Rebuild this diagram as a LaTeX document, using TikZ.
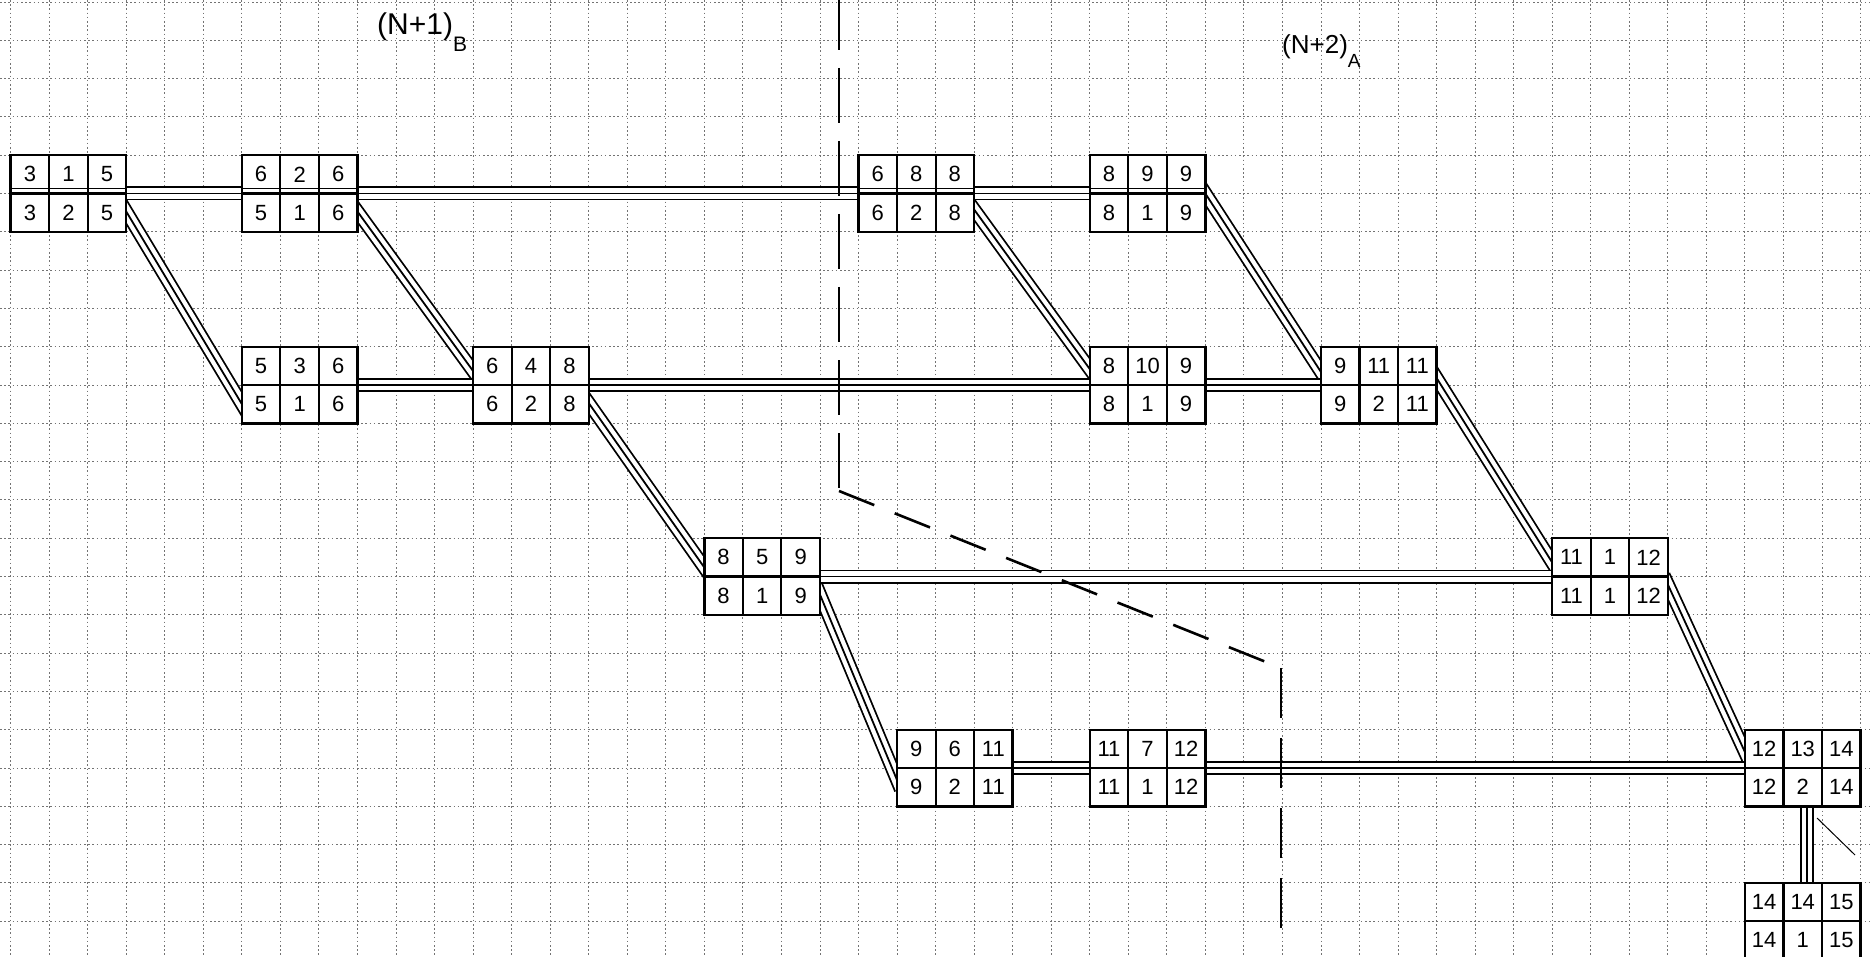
\documentclass[tikz,border=0pt]{standalone}
\usepackage{fontspec}
\setmainfont{Liberation Sans}
\usetikzlibrary{calc}
\pgfdeclarelayer{bg}
\pgfdeclarelayer{conn}
\pgfsetlayers{bg,conn,main}
\newcommand{\actbox}[9]{%
  \node[pbx, anchor=north west] (#1) at ({10.6+38.54*#2},{155.2+38.3*#3}) {};
  \draw[cellline] ($(#1.north west)+(38.54,0)$) -- ($(#1.south west)+(38.54,0)$);
  \draw[cellline] ($(#1.north west)+(77.08,0)$) -- ($(#1.south west)+(77.08,0)$);
  \draw[cellline] (#1.west) -- (#1.east);
  \node[num] (#1-a) at ($(#1.north west)+(19.27,19.15)$) {#4};
  \node[num] (#1-b) at ($(#1.north west)+(57.81,19.15)$) {#5};
  \node[num] (#1-c) at ($(#1.north west)+(96.35,19.15)$) {#6};
  \node[num] (#1-d) at ($(#1.north west)+(19.27,57.45)$) {#7};
  \node[num] (#1-e) at ($(#1.north west)+(57.81,57.45)$) {#8};
  \node[num] (#1-f) at ($(#1.north west)+(96.35,57.45)$) {#9};
}
\newcommand{\dmid}[1]{\draw[cellline, line width=1.6pt] ($(#1.west)+(0,-5)$) -- ($(#1.east)+(0,-5)$);}
\begin{document}
\begin{tikzpicture}[x=1pt,y=-1pt,
  pbx/.style={draw, line width=2.4pt, fill=white, minimum width=115.62pt, minimum height=76.6pt, inner sep=0pt, outer sep=0pt},
  cellline/.style={line width=2.1pt},
  num/.style={font=\fontsize{22}{22}\selectfont, inner sep=0pt},
  tri/.style={draw=black, line width=14pt, shorten <=-10pt, shorten >=-10pt,
    postaction={draw=white, line width=10.4pt},
    postaction={draw=black, line width=1.8pt}},
  gridline/.style={black!55, line width=0.9pt, dash pattern=on 1.6pt off 2.6pt},
  bound/.style={line width=2.6pt},
  lbl/.style={inner sep=0pt}]
\path[use as bounding box] (0,0) rectangle (1870,957);
\clip (0,0) rectangle (1870,957);
\begin{pgfonlayer}{bg}
  \fill[white] (0,0) rectangle (1870,957);
  \foreach \k in {0,...,48} { \draw[gridline] ({10.6+38.54*\k},0) -- ({10.6+38.54*\k},957); }
  \foreach \k in {-4,...,20} { \draw[gridline] (0,{155.2+38.3*\k}) -- (1870,{155.2+38.3*\k}); }
\end{pgfonlayer}
% boxes
\actbox{n1}{0}{0}{3}{1}{5}{3}{2}{5}
\actbox{n2}{6}{0}{6}{2}{6}{5}{1}{6}
\actbox{n3}{6}{5}{5}{3}{6}{5}{1}{6}
\actbox{n4}{12}{5}{6}{4}{8}{6}{2}{8}
\actbox{n5}{22}{0}{6}{8}{8}{6}{2}{8}
\actbox{n6}{28}{0}{8}{9}{9}{8}{1}{9}
\actbox{n7}{28}{5}{8}{10}{9}{8}{1}{9}
\actbox{n8}{34}{5}{9}{11}{11}{9}{2}{11}
\actbox{n9}{18}{10}{8}{5}{9}{8}{1}{9}
\actbox{n10}{40}{10}{11}{1}{12}{11}{1}{12}
\actbox{n11}{23}{15}{9}{6}{11}{9}{2}{11}
\actbox{n12}{28}{15}{11}{7}{12}{11}{1}{12}
\actbox{n13}{45}{15}{12}{13}{14}{12}{2}{14}
\actbox{n14}{45}{19}{14}{14}{15}{14}{1}{15}
\dmid{n1}\dmid{n2}\dmid{n5}\dmid{n6}
% connectors
\begin{pgfonlayer}{conn}
  % diagonals
  \draw[tri] ($(n1.east)+(0,18)$) -- ($(n3.west)+(0,19)$);
  \draw[tri] ($(n2.east)+(0,18)$) -- ($(n4.west)+(0,-14)$);
  \draw[tri] ($(n5.east)+(0,16)$) -- ($(n7.west)+(0,-16)$);
  \draw[tri] ($(n6.east)+(0,0)$) -- ($(n8.west)+(0,-13)$);
  \draw[tri] ($(n4.east)+(0,18)$) -- ($(n9.west)+(0,-9)$);
  \draw[tri] ($(n8.east)+(0,-7)$) -- ($(n10.west)+(0,-14)$);
  \draw[tri] ($(n9.east)+(0,18)$) -- ($(n11.west)+(0,12)$);
  \draw[tri] ($(n10.east)+(0,8)$) -- ($(n13.west)+(0,-16)$);
  % horizontals
  \draw[tri] (n1) -- (n2);
  \draw[tri] (n2) -- (n5);
  \draw[tri] (n5) -- (n6);
  \draw[tri] (n3) -- (n4);
  \draw[tri] (n4) -- (n7);
  \draw[tri] (n7) -- (n8);
  \draw[tri] (n9) -- (n10);
  \draw[tri] (n11) -- (n12);
  \draw[tri] (n12) -- (n13);
  % vertical
  \draw[tri] ($(n13.center)+(4,0)$) -- ($(n14.center)+(4,0)$);
\end{pgfonlayer}
% boundary (dashed)
\coordinate (d0) at (839,-5);
\coordinate (d1) at (839,491);
\coordinate (d2) at (1281,668);
\coordinate (d3) at (1281,940);
\draw[bound, dash pattern=on 55pt off 18pt] (d0) -- (d1);
\draw[bound, dash pattern=on 38pt off 22pt] (d1) -- (d2);
\draw[bound, dash pattern=on 50pt off 20pt] (d2) -- (d3);
% small stroke near last boxes
\coordinate (t1) at (1817,818);
\coordinate (t2) at (1855,855);
\draw[line width=1pt] (t1) -- (t2);
% labels
\node[lbl, anchor=base west, font=\fontsize{30}{30}\selectfont] (lblB) at (377,35) {(N+1)\raisebox{-17pt}{\fontsize{21}{21}\selectfont B}};
\node[lbl, anchor=base west, font=\fontsize{26}{26}\selectfont] (lblA) at (1282,54) {(N+2)\raisebox{-14pt}{\fontsize{19}{19}\selectfont A}};
\end{tikzpicture}
\end{document}
